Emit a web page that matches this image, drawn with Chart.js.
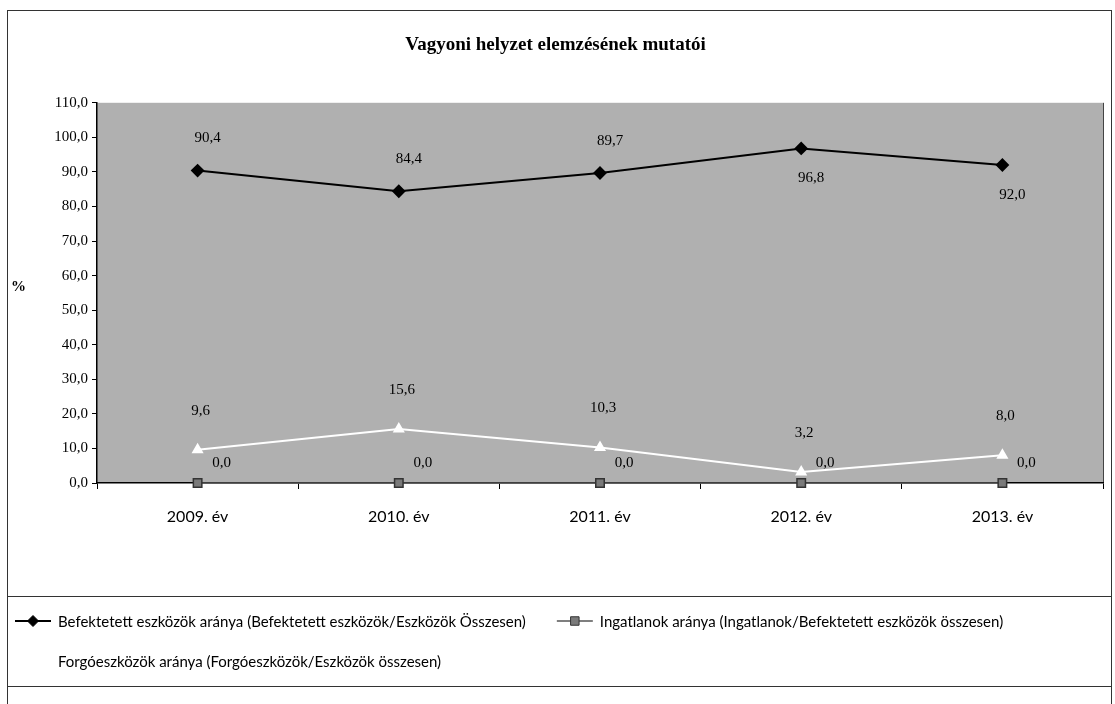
<!DOCTYPE html>
<html>
<head>
<meta charset="utf-8">
<script src="https://cdn.jsdelivr.net/npm/chart.js@4"></script>
<style>
  html, body { margin: 0; padding: 0; background: #fff; }
  #wrap { position: relative; width: 1115px; height: 704px; }
</style>
</head>
<body>
<div id="wrap"><canvas id="chart"></canvas></div>
<script>
// adatok
const categories = ['2009. év', '2010. év', '2011. év', '2012. év', '2013. év'];
const befektetett = [90.4, 84.4, 89.7, 96.8, 92.0];
const ingatlanok = [0.0, 0.0, 0.0, 0.0, 0.0];
const forgo = [9.6, 15.6, 10.3, 3.2, 8.0];
const yTickValues = [0, 10, 20, 30, 40, 50, 60, 70, 80, 90, 100, 110];
const seriesNames = [
    'Befektetett eszközök aránya (Befektetett eszközök/Eszközök Összesen)',
    'Ingatlanok aránya (Ingatlanok/Befektetett eszközök összesen)',
    'Forgóeszközök aránya (Forgóeszközök/Eszközök összesen)'
];
// címkék helye az első sorozatnál
const labelSide = ['up', 'up', 'up', 'down', 'down'];

const SERIF = '"Liberation Serif", "Times New Roman", serif';
const SANS = 'Lato, "Open Sans", sans-serif';
const fmt = v => v.toFixed(1).replace('.', ',');

// szürke háttér a rajzterületen
const plotBg = {
    id: 'plotBg',
    beforeDraw(chart) {
        const { ctx, chartArea: a } = chart;
        ctx.save();
        ctx.fillStyle = '#b0b0b0';
        ctx.fillRect(a.left, a.top, a.right - a.left, a.bottom - a.top);
        ctx.strokeStyle = '#444';
        ctx.lineWidth = 1;
        ctx.beginPath();
        ctx.moveTo(a.right + 0.5, a.top);
        ctx.lineTo(a.right + 0.5, a.bottom);
        ctx.stroke();
        ctx.restore();
    }
};

// értékcímkék
const valueLabels = {
    id: 'valueLabels',
    afterDatasetsDraw(chart) {
        const ctx = chart.ctx;
        ctx.save();
        ctx.font = '15px ' + SERIF;
        ctx.fillStyle = '#000';
        ctx.textAlign = 'center';
        ctx.textBaseline = 'middle';
        chart.data.datasets.forEach((ds, di) => {
            chart.getDatasetMeta(di).data.forEach((pt, i) => {
                let dx = 0, dy = 0;
                if (di === 0) { dx = 10; dy = labelSide[i] === 'up' ? -32 : 30; }
                if (di === 1) { dx = 24; dy = -20; }
                if (di === 2) { dx = 3; dy = -39; }
                ctx.fillText(fmt(ds.data[i]), pt.x + dx, pt.y + dy);
            });
        });
        ctx.restore();
    }
};

// keret, % felirat és jelmagyarázat
const frameLegend = {
    id: 'frameLegend',
    afterDraw(chart) {
        const { ctx, chartArea: a } = chart;
        ctx.save();
        ctx.strokeStyle = '#333';
        ctx.lineWidth = 1;
        ctx.strokeRect(7.5, 10.5, 1104, 720);
        ctx.strokeRect(7.5, 596.5, 1104, 90);

        ctx.fillStyle = '#000';
        ctx.font = 'bold 15px ' + SERIF;
        ctx.textAlign = 'left';
        ctx.textBaseline = 'middle';
        ctx.fillText('%', 11, (a.top + a.bottom) / 2 - 6);

        ctx.font = '15px ' + SANS;
        let x = 15, y = 621;
        chart.data.datasets.forEach((ds, di) => {
            const w = ctx.measureText(ds.label).width;
            if (x + 43 + w > 1105) { x = 15; y += 40; }
            ctx.strokeStyle = ds.borderColor;
            ctx.lineWidth = ds.borderWidth;
            ctx.beginPath();
            ctx.moveTo(x, y);
            ctx.lineTo(x + 36, y);
            ctx.stroke();
            ctx.fillStyle = ds.pointBackgroundColor;
            ctx.strokeStyle = ds.pointBorderColor;
            ctx.lineWidth = 1;
            Chart.helpers.drawPoint(ctx, { pointStyle: ds.pointStyle, radius: ds.pointRadius, rotation: 0, borderWidth: 1 }, x + 18, y);
            ctx.fillStyle = '#000';
            ctx.fillText(ds.label, x + 43, y + 1);
            x += 43 + w + 31;
        });
        ctx.restore();
    }
};

const ctx = document.getElementById('chart').getContext('2d');
const chart = new Chart(ctx, {
    type: 'line',
    data: {
        labels: categories,
        datasets: [
            {
                label: seriesNames[0],
                data: befektetett,
                borderColor: '#000',
                borderWidth: 2,
                pointStyle: 'rectRot',
                pointRadius: 5.5,
                pointBackgroundColor: '#000',
                pointBorderColor: '#000',
                clip: false
            },
            {
                label: seriesNames[1],
                data: ingatlanok,
                borderColor: '#555',
                borderWidth: 1.5,
                pointStyle: 'rect',
                pointRadius: 6,
                pointBackgroundColor: '#7a7a7a',
                pointBorderColor: '#333',
                clip: false
            },
            {
                label: seriesNames[2],
                data: forgo,
                borderColor: '#fff',
                borderWidth: 2,
                pointStyle: 'triangle',
                pointRadius: 5,
                pointBackgroundColor: '#fff',
                pointBorderColor: '#fff',
                clip: false
            }
        ]
    },
    options: {
        responsive: true,
        maintainAspectRatio: false,
        animation: false,
        layout: { padding: { left: 8, right: 12, top: 12, bottom: 181 } },
        plugins: {
            legend: { display: false },
            tooltip: { enabled: false },
            title: {
                display: true,
                text: 'Vagyoni helyzet elemzésének mutatói',
                color: '#000',
                font: { family: SERIF, size: 19, weight: 'bold' },
                padding: { top: 22, bottom: 46 }
            }
        },
        scales: {
            x: {
                offset: true,
                grid: { offset: true, drawOnChartArea: false, tickLength: 6, color: '#000' },
                border: { color: '#000', width: 1.5 },
                ticks: { color: '#000', padding: 18, font: { family: SANS, size: 16 } },
                afterFit(scale) { scale.height = 40; }
            },
            y: {
                min: 0,
                max: 110,
                afterBuildTicks(scale) { scale.ticks = yTickValues.map(v => ({ value: v })); },
                grid: { drawOnChartArea: false, tickLength: 5, color: '#000' },
                border: { color: '#000', width: 1.5 },
                ticks: {
                    color: '#000',
                    padding: 4,
                    font: { family: SERIF, size: 15 },
                    callback: v => fmt(v)
                },
                afterFit(scale) { scale.width = 89; }
            }
        }
    },
    plugins: [plotBg, valueLabels, frameLegend]
});
</script>
</body>
</html>
